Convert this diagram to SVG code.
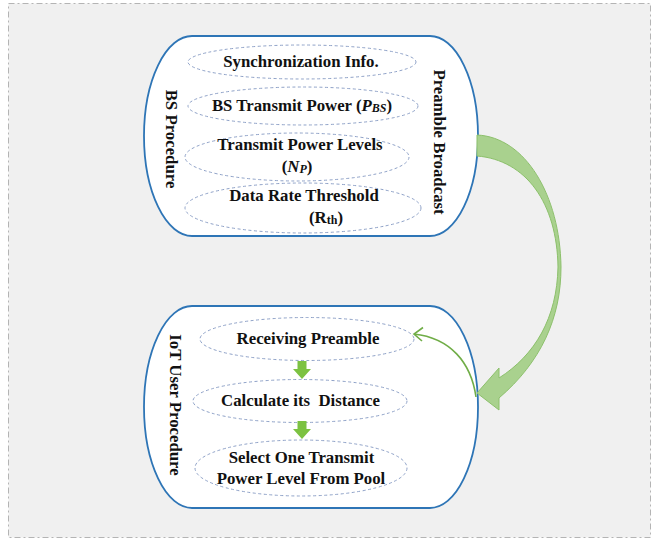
<svg xmlns="http://www.w3.org/2000/svg" width="661" height="540" viewBox="0 0 661 540">
<defs>
<style>
.box{fill:#ffffff;stroke:#2e75b6;stroke-width:1.8}
.ell{fill:none;stroke:#8fa2c8;stroke-width:1;stroke-dasharray:3 2.5}
.t{font-family:"Liberation Serif","Times New Roman",serif;font-weight:bold;font-size:16.8px;fill:#111111;text-anchor:middle}
.sub{font-size:12px}
.down{fill:#7cc242}
</style>
</defs>
<rect x="0" y="0" width="661" height="540" fill="#ffffff"/>
<rect x="8.5" y="3.5" width="642" height="534" fill="#f0f0f0" stroke="#b4b4b4" stroke-width="1" stroke-dasharray="6 3 2 3"/>

<g id="bs-procedure">
<rect class="box" x="144" y="36" width="334" height="200" rx="48" ry="100"/>
<text class="t" transform="translate(166,139) rotate(90)">BS Procedure</text>
<text class="t" transform="translate(434,142) rotate(90)">Preamble Broadcast</text>
</g>
<g id="sync-info">
<ellipse class="ell" cx="302" cy="62" rx="114" ry="17"/>
<text class="t" x="301" y="67">Synchronization Info.</text>
</g>
<g id="bs-power">
<ellipse class="ell" cx="303" cy="106" rx="115" ry="19"/>
<text class="t" x="302" y="111">BS Transmit Power (<tspan font-style="italic">P</tspan><tspan class="sub" font-style="italic" dy="1">BS</tspan><tspan dy="-1">)</tspan></text>
</g>
<g id="power-levels">
<ellipse class="ell" cx="297" cy="157" rx="112" ry="24"/>
<text class="t" x="300" y="150">Transmit Power Levels</text>
<text class="t" x="297" y="172">(<tspan font-style="italic">N</tspan><tspan class="sub" font-style="italic" dy="1">P</tspan><tspan dy="-1">)</tspan></text>
</g>
<g id="rate-threshold">
<ellipse class="ell" cx="303" cy="208" rx="118" ry="25"/>
<text class="t" x="304" y="201">Data Rate Threshold</text>
<text class="t" x="326" y="223">(R<tspan class="sub" dy="1">th</tspan><tspan dy="-1">)</tspan></text>
</g>

<g id="iot-procedure">
<rect class="box" x="144" y="306" width="334" height="202" rx="48" ry="101"/>
<text class="t" transform="translate(170,405) rotate(90)">IoT User Procedure</text>
</g>
<g id="receiving">
<ellipse class="ell" cx="307" cy="339" rx="107" ry="21.5"/>
<text class="t" x="308" y="344">Receiving Preamble</text>
</g>
<g id="calculate">
<ellipse class="ell" cx="300" cy="401" rx="107" ry="21.5"/>
<text class="t" x="300.5" y="406" xml:space="preserve">Calculate its  Distance</text>
</g>
<g id="select">
<ellipse class="ell" cx="301" cy="468" rx="106" ry="28"/>
<text class="t" x="301.5" y="463">Select One Transmit</text>
<text class="t" x="301" y="484">Power Level From Pool</text>
</g>

<g id="connectors">
<path class="down" d="M297.5 361 H306.5 V369 H311 L302 379 L293 369 H297.5 Z"/>
<path class="down" d="M297.5 421 H306.5 V429 H311 L302 439 L293 429 H297.5 Z"/>
<path d="M477 135 C525 137 560 195 561 267 C561 318 541 362 499 398 L499 410 L477 393 L499 368 L499 378 C535 355 557 318 558 267 C557 203 526 160 477 156 Z" fill="#a9d18e" stroke="#8cc06b" stroke-width="1"/>
<path d="M476 397 C471 362 450 338 414 334" fill="none" stroke="#70ad47" stroke-width="1.6"/>
<path d="M423 327.5 L414 334 L422 341" fill="none" stroke="#70ad47" stroke-width="1.6"/>
</g>
</svg>
